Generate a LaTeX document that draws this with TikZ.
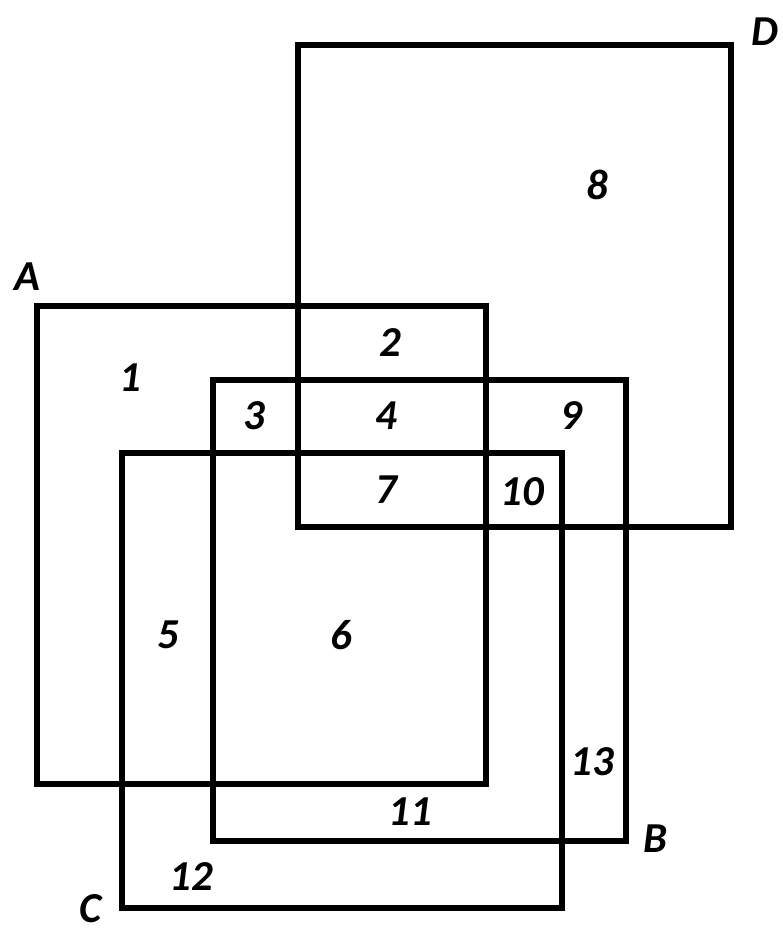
\documentclass[tikz,border=0pt]{standalone}
\usepackage{fontspec}
\setmainfont{Carlito}
\begin{document}
\begin{tikzpicture}[x=0.75pt,y=-0.75pt,
  boxline/.style={line width=4.3pt,line join=miter},
  lbl/.style={font=\fontsize{32}{35}\selectfont\bfseries\itshape,inner sep=0pt}]
\useasboundingbox (0,0) rectangle (782,934);
\draw[boxline] (298,45) rectangle (731,527);
\draw[boxline] (37,306) rectangle (486,784);
\draw[boxline] (213,380) rectangle (626,841);
\draw[boxline] (122,453) rectangle (562,908);
\node[lbl] (lD) at (765,32) {D};
\node[lbl] (lA) at (27,277) {A};
\node[lbl] (lB) at (655,839) {B};
\node[lbl] (lC) at (91,909) {C};
\node[lbl] (n1) at (130,378) {1};
\node[lbl] (n2) at (390,343) {2};
\node[lbl] (n3) at (254,416) {3};
\node[lbl] (n4) at (386,416) {4};
\node[lbl] (n9) at (571,416) {9};
\node[lbl] (n7) at (386,490) {7};
\node[lbl] (n10) at (522,492) {10};
\node[lbl] (n8) at (597,185) {8};
\node[lbl] (n5) at (168,635) {5};
\node[lbl] (n6) at (341,635) {6};
\node[lbl] (n13) at (592,762) {13};
\node[lbl] (n11) at (410,812) {11};
\node[lbl] (n12) at (191,877) {12};
\end{tikzpicture}
\end{document}
